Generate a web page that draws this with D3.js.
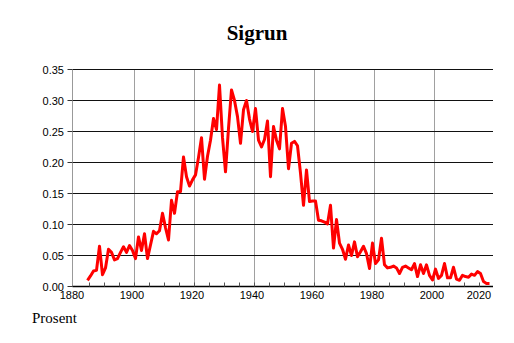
<!DOCTYPE html>
<html>
<head>
<meta charset="utf-8">
<script src="https://cdn.jsdelivr.net/npm/d3@7"></script>
<style>
  body { margin: 0; background: #fff; }
  svg { display: block; }
</style>
</head>
<body>
<script>
// yearly share (prosent) for the name
const years = d3.range(1884, 2019);
const values = [
  0.010, 0.017, 0.025, 0.026, 0.065, 0.019, 0.030, 0.060, 0.055, 0.043,
  0.045, 0.055, 0.064, 0.055, 0.066, 0.058, 0.045, 0.080, 0.058, 0.085,
  0.045, 0.067, 0.089, 0.085, 0.090, 0.118, 0.095, 0.075, 0.139, 0.118,
  0.153, 0.153, 0.209, 0.177, 0.162, 0.172, 0.180, 0.208, 0.240, 0.173,
  0.210, 0.236, 0.271, 0.253, 0.325, 0.240, 0.185, 0.255, 0.317, 0.300,
  0.274, 0.231, 0.285, 0.300, 0.270, 0.250, 0.287, 0.236, 0.225, 0.237,
  0.267, 0.177, 0.258, 0.236, 0.222, 0.287, 0.258, 0.190, 0.231, 0.234,
  0.227, 0.183, 0.131, 0.188, 0.137, 0.138, 0.138, 0.107, 0.106, 0.104,
  0.101, 0.131, 0.062, 0.108, 0.070, 0.060, 0.044, 0.067, 0.050, 0.072,
  0.048, 0.056, 0.065, 0.053, 0.029, 0.070, 0.037, 0.043, 0.078, 0.035,
  0.030, 0.031, 0.033, 0.030, 0.021, 0.031, 0.033, 0.030, 0.027, 0.037,
  0.016, 0.035, 0.021, 0.035, 0.018, 0.0105, 0.028, 0.013, 0.018, 0.037,
  0.014, 0.014, 0.031, 0.012, 0.010, 0.018, 0.016, 0.015, 0.020, 0.018,
  0.024, 0.021, 0.008, 0.005, 0.005
];
const yTicks = [0, 0.05, 0.10, 0.15, 0.20, 0.25, 0.30, 0.35];
const xTicks = [1880, 1900, 1920, 1940, 1960, 1980, 2000, 2020];
const title = "Sigrun";
const yLabel = "Prosent";

const data = years.map((y, i) => ({ year: y, value: values[i] }));

const W = 514, H = 343;
const plotLeft = 72.5, plotRight = 493, plotTop = 69.5, plotBottom = 286.5;

const svg = d3.select("body").append("svg")
  .attr("width", W).attr("height", H);

const x = d3.scaleLinear().domain([1880, 2020]).range([74, 494]);
const y = d3.scaleLinear().domain([0, 0.35]).range([plotBottom, plotTop]);

// vertical grid (grey)
svg.append("g")
  .selectAll("line")
  .data(xTicks.filter(d => d > 1880 && d < 2020))
  .join("line")
  .attr("x1", d => Math.round(x(d)) + 0.5).attr("x2", d => Math.round(x(d)) + 0.5)
  .attr("y1", plotTop).attr("y2", plotBottom)
  .attr("stroke", "#a0a0a0").attr("stroke-width", 1);

// horizontal grid (black)
svg.append("g")
  .selectAll("line")
  .data(yTicks.filter(d => d > 0))
  .join("line")
  .attr("x1", plotLeft).attr("x2", plotRight)
  .attr("y1", d => y(d)).attr("y2", d => y(d))
  .attr("stroke", "#111").attr("stroke-width", 1);

// y axis
svg.append("line")
  .attr("x1", plotLeft).attr("x2", plotLeft).attr("y1", plotTop).attr("y2", plotBottom)
  .attr("stroke", "#999");
svg.append("g")
  .selectAll("line")
  .data(yTicks)
  .join("line")
  .attr("x1", plotLeft - 5).attr("x2", plotLeft)
  .attr("y1", d => y(d)).attr("y2", d => y(d))
  .attr("stroke", "#333");
svg.append("g")
  .selectAll("text")
  .data(yTicks)
  .join("text")
  .attr("x", 64).attr("y", d => y(d) + 4)
  .attr("text-anchor", "end")
  .attr("font-family", "Liberation Sans, Arial, sans-serif")
  .attr("font-size", 11)
  .text(d => d3.format(".2f")(d));

// x axis
svg.append("line")
  .attr("x1", plotLeft).attr("x2", plotRight).attr("y1", plotBottom).attr("y2", plotBottom)
  .attr("stroke", "#000").attr("stroke-width", 1.5);
svg.append("g")
  .selectAll("line")
  .data(d3.range(1885, 2020, 5))
  .join("line")
  .attr("x1", d => Math.round(x(d)) + 0.5).attr("x2", d => Math.round(x(d)) + 0.5)
  .attr("y1", plotBottom - 4).attr("y2", plotBottom)
  .attr("stroke", "#555");
svg.append("g")
  .selectAll("text")
  .data(xTicks)
  .join("text")
  .attr("x", d => d === 2020 ? x(d) - 15 : x(d) - 2)
  .attr("y", 299)
  .attr("text-anchor", "middle")
  .attr("font-family", "Liberation Sans, Arial, sans-serif")
  .attr("font-size", 11)
  .text(d => d);

// series line, each year drawn at mid-year
const line = d3.line()
  .x(d => x(d.year + 0.5))
  .y(d => y(d.value));

svg.append("path")
  .datum(data)
  .attr("d", line)
  .attr("fill", "none")
  .attr("stroke", "#ff0000")
  .attr("stroke-width", 3)
  .attr("stroke-linejoin", "round");

// title and unit label
svg.append("text")
  .attr("x", 257).attr("y", 40)
  .attr("text-anchor", "middle")
  .attr("font-family", "Liberation Serif, Times New Roman, serif")
  .attr("font-weight", "bold")
  .attr("font-size", 21)
  .text(title);

svg.append("text")
  .attr("x", 32).attr("y", 323)
  .attr("font-family", "Liberation Serif, Times New Roman, serif")
  .attr("font-size", 15)
  .text(yLabel);
</script>
</body>
</html>
